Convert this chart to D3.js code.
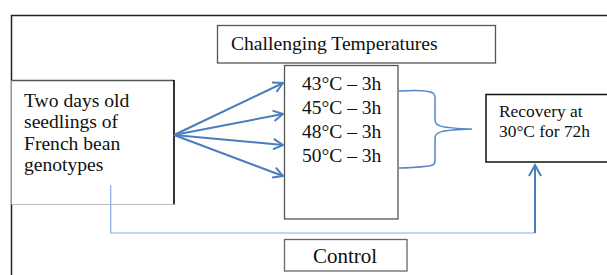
<!DOCTYPE html>
<html><head><meta charset="utf-8">
<script src="https://cdn.jsdelivr.net/npm/d3@7"></script>
<style>body{margin:0;background:#fff}svg{display:block}</style>
</head><body>
<script>
// ---- content (diagram data) ----
const titleLabel = "Challenging Temperatures";
const sourceLines = ["Two days old", "seedlings of", "French bean", "genotypes"];
const treatments = ["43°C – 3h", "45°C – 3h", "48°C – 3h", "50°C – 3h"];
const recoveryLines = ["Recovery at", "30°C for 72h"];
const controlLabel = "Control";

const W = 607, H = 275;
const svg = d3.select("body").append("svg").attr("width", W).attr("height", H);
const font = "'Liberation Serif','Times New Roman',serif";
const blue = "#4a7ebb";

// layout scales
const rowY = d3.scalePoint().domain(treatments).range([90, 162]);
const arrowY = d3.scalePoint().domain(treatments).range([83, 176]);
const srcY = d3.scalePoint().domain(sourceLines).range([107, 171]);
const recY = d3.scalePoint().domain(recoveryLines).range([117, 137]);

// outer frame
svg.append("path").attr("d", "M11.5,275 V15.5 H607").attr("fill", "none")
  .attr("stroke", "#222").attr("stroke-width", 1.5);

function box(x, y, w, h, stroke, sw) {
  svg.append("rect").attr("x", x).attr("y", y).attr("width", w).attr("height", h)
    .attr("fill", "#fff").attr("stroke", stroke).attr("stroke-width", sw);
}

// source box (left border is frame)
svg.append("rect").attr("x", 11.5).attr("y", 80).attr("width", 162.5).attr("height", 124).attr("fill", "#fff");
svg.append("line").attr("x1", 11.5).attr("x2", 174).attr("y1", 80.5).attr("y2", 80.5).attr("stroke", "#555").attr("stroke-width", 1.3);
svg.append("line").attr("x1", 174).attr("x2", 174).attr("y1", 80).attr("y2", 204.5).attr("stroke", "#000").attr("stroke-width", 1.6);
svg.append("line").attr("x1", 11.5).attr("x2", 174).attr("y1", 204.5).attr("y2", 204.5).attr("stroke", "#bbb").attr("stroke-width", 1);
svg.selectAll("text.src").data(sourceLines).join("text").attr("class", "src")
  .attr("x", 24).attr("y", d => srcY(d)).attr("font-family", font).attr("font-size", 19.6)
  .attr("fill", "#111").text(d => d);

// title box
box(217.5, 25.5, 278, 37.5, "#555", 1.3);
svg.append("text").attr("x", 231).attr("y", 50).attr("font-family", font).attr("font-size", 19.6)
  .attr("fill", "#111").text(titleLabel);

// treatment box
box(284.5, 65.5, 113.5, 153.5, "#555", 1.3);
svg.selectAll("text.tr").data(treatments).join("text").attr("class", "tr")
  .attr("x", 302).attr("y", d => rowY(d)).attr("font-family", font).attr("font-size", 19.5)
  .attr("fill", "#111").text(d => d);

// fan arrows
const ox = 174, oy = 135, tx = 283;
treatments.forEach(t => {
  const ty = arrowY(t);
  const ang = Math.atan2(ty - oy, tx - ox);
  const L = 11, a = 0.5;
  svg.append("line").attr("x1", ox).attr("y1", oy).attr("x2", tx).attr("y2", ty)
    .attr("stroke", blue).attr("stroke-width", 2);
  svg.append("path").attr("d",
    `M${tx - L * Math.cos(ang - a)},${ty - L * Math.sin(ang - a)} L${tx},${ty} L${tx - L * Math.cos(ang + a)},${ty - L * Math.sin(ang + a)}`)
    .attr("fill", "none").attr("stroke", blue).attr("stroke-width", 2);
});

// brace
svg.append("path").attr("d",
  "M399,91 C415,90 428,90 433,93 C436,95 435,98 435,102 L435,120 C435,126 440,128 472,129 C440,130 435,132 435,138 L435,160 C435,164 434,165 429,166 C420,167 410,168 399,168")
  .attr("fill", "none").attr("stroke", "#5585c5").attr("stroke-width", 1.5);

// recovery box
box(486, 94.5, 130, 67.5, "#111", 1.5);
svg.selectAll("text.rec").data(recoveryLines).join("text").attr("class", "rec")
  .attr("x", 499).attr("y", d => recY(d)).attr("font-family", font).attr("font-size", 17.4)
  .attr("fill", "#111").text(d => d);

// control path
svg.append("path").attr("d", "M110.7,185 V233 H535").attr("fill", "none")
  .attr("stroke", "#8aaee0").attr("stroke-width", 1.2);
svg.append("line").attr("x1", 535).attr("x2", 535).attr("y1", 233).attr("y2", 165)
  .attr("stroke", blue).attr("stroke-width", 2);
svg.append("path").attr("d", "M529,176 L535,165 L541,176").attr("fill", "none")
  .attr("stroke", blue).attr("stroke-width", 2);

// control box
box(284.5, 239.5, 122.5, 31.5, "#666", 1.3);
svg.append("text").attr("x", 313).attr("y", 263).attr("font-family", font).attr("font-size", 21)
  .attr("fill", "#111").text(controlLabel);
</script>
</body></html>
